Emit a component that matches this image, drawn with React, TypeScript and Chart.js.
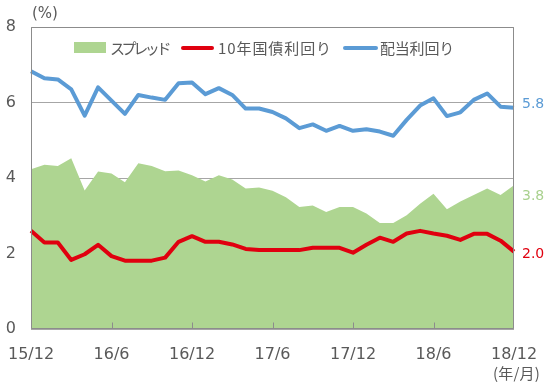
import { useEffect, useRef } from 'react';
import { Chart, registerables } from 'chart.js';
Chart.register(...registerables);

const months = [
  '15/12', '16/1', '16/2', '16/3', '16/4', '16/5', '16/6', '16/7', '16/8', '16/9', '16/10', '16/11',
  '16/12', '17/1', '17/2', '17/3', '17/4', '17/5', '17/6', '17/7', '17/8', '17/9', '17/10', '17/11',
  '17/12', '18/1', '18/2', '18/3', '18/4', '18/5', '18/6', '18/7', '18/8', '18/9', '18/10', '18/11',
  '18/12',
];

const dividendYield = [
  6.83, 6.64, 6.61, 6.35, 5.65, 6.40, 6.05, 5.70, 6.20, 6.13, 6.07, 6.51,
  6.53, 6.22, 6.38, 6.20, 5.84, 5.84, 5.75, 5.58, 5.32, 5.42, 5.25, 5.38,
  5.25, 5.29, 5.23, 5.12, 5.54, 5.92, 6.11, 5.64, 5.74, 6.07, 6.24, 5.89,
  5.86,
];

const bondYield = [
  2.60, 2.29, 2.29, 1.83, 1.98, 2.23, 1.93, 1.81, 1.81, 1.81, 1.89, 2.31,
  2.46, 2.31, 2.31, 2.24, 2.12, 2.09, 2.09, 2.09, 2.09, 2.15, 2.15, 2.15,
  2.02, 2.23, 2.42, 2.31, 2.53, 2.60, 2.53, 2.47, 2.36, 2.52, 2.52, 2.34,
  2.05,
];

const spread = [
  4.23, 4.35, 4.32, 4.52, 3.67, 4.17, 4.12, 3.89, 4.39, 4.32, 4.18, 4.20,
  4.07, 3.91, 4.07, 3.96, 3.72, 3.75, 3.66, 3.49, 3.23, 3.27, 3.10, 3.23,
  3.23, 3.06, 2.81, 2.81, 3.01, 3.32, 3.58, 3.17, 3.38, 3.55, 3.72, 3.55,
  3.81,
];

const seriesNames = ['スプレッド', '10年国債利回り', '配当利回り'];
const endLabels = ['5.8', '3.8', '2.0'];
const yUnit = '(%)';
const xUnit = '(年/月)';

const GREEN = '#AED591';
const GREEN_TEXT = '#A9D18E';
const RED = '#E0000F';
const BLUE = '#5B9BD5';
const GREY_TEXT = '#595959';
const AXIS = '#8C8C8C';
const CJK_FONT = '15px "Noto Sans CJK JP"';

function fitText(ctx: any, text: string, x: number, y: number, width: number) {
  ctx.letterSpacing = '0px';
  const w = ctx.measureText(text).width;
  const sp = (width - w) / text.length;
  ctx.letterSpacing = `${sp}px`;
  ctx.fillText(text, x, y);
  ctx.letterSpacing = '0px';
}

const overlay = {
  id: 'overlay',
  afterDraw(chart: any) {
    const { ctx, chartArea: a, scales } = chart;
    const x = scales.x;
    const y = scales.y;
    ctx.save();
    ctx.strokeStyle = AXIS;
    ctx.lineWidth = 1;
    ctx.setLineDash([]);
    const l = Math.round(a.left) + 0.5;
    const r = Math.round(a.right) - 0.5;
    const t = Math.round(a.top) + 0.5;
    const b = Math.round(a.bottom) - 0.5;
    ctx.beginPath();
    ctx.rect(l, t, r - l, b - t);
    ctx.stroke();
    ctx.beginPath();
    for (let i = 0; i < months.length; i += 6) {
      const px = Math.min(Math.round(x.getPixelForValue(i)) + 0.5, r);
      ctx.moveTo(px, b);
      ctx.lineTo(px, b - 6);
    }
    ctx.stroke();

    ctx.textBaseline = 'middle';
    ctx.textAlign = 'left';
    const ly = 48;
    ctx.fillStyle = GREEN;
    ctx.fillRect(74, ly - 6, 32, 11);
    ctx.fillStyle = GREY_TEXT;
    ctx.font = CJK_FONT;
    fitText(ctx, seriesNames[0], 110, ly, 58);
    ctx.lineCap = 'round';
    ctx.lineWidth = 4;
    ctx.strokeStyle = RED;
    ctx.beginPath();
    ctx.moveTo(183, ly);
    ctx.lineTo(212, ly);
    ctx.stroke();
    fitText(ctx, seriesNames[1], 218, ly, 114);
    ctx.strokeStyle = BLUE;
    ctx.beginPath();
    ctx.moveTo(345, ly);
    ctx.lineTo(376, ly);
    ctx.stroke();
    fitText(ctx, seriesNames[2], 380, ly, 74);

    const last = months.length - 1;
    ctx.font = '14px "DejaVu Sans"';
    ctx.fillStyle = BLUE;
    ctx.fillText(endLabels[0], 522, y.getPixelForValue(dividendYield[last]) - 3);
    ctx.fillStyle = GREEN_TEXT;
    ctx.fillText(endLabels[1], 522, y.getPixelForValue(spread[last]) + 11);
    ctx.fillStyle = RED;
    ctx.fillText(endLabels[2], 522, y.getPixelForValue(bondYield[last]) + 3);

    ctx.fillStyle = GREY_TEXT;
    ctx.font = '15px "DejaVu Sans"';
    ctx.fillText(yUnit, 32, 14);
    ctx.font = CJK_FONT;
    fitText(ctx, xUnit, 493, 373, 47);
    ctx.restore();
  },
};

export default function App() {
  const ref = useRef<HTMLCanvasElement>(null);
  useEffect(() => {
    const chart = new Chart(ref.current as HTMLCanvasElement, {
      type: 'line',
      data: {
        labels: months,
        datasets: [
          {
            label: seriesNames[2],
            data: dividendYield,
            borderColor: BLUE,
            borderWidth: 4,
            pointRadius: 0,
            tension: 0,
            fill: false,
            borderJoinStyle: 'round',
            order: 1,
          },
          {
            label: seriesNames[1],
            data: bondYield,
            borderColor: RED,
            borderWidth: 4,
            pointRadius: 0,
            tension: 0,
            fill: false,
            borderJoinStyle: 'round',
            order: 2,
          },
          {
            label: seriesNames[0],
            data: spread,
            borderColor: GREEN,
            backgroundColor: GREEN,
            borderWidth: 0,
            pointRadius: 0,
            tension: 0,
            fill: 'origin',
            order: 3,
          },
        ],
      },
      options: {
        responsive: false,
        animation: false,
        layout: { padding: { left: 0, right: 36, top: 27, bottom: 0 } },
        plugins: { legend: { display: false }, tooltip: { enabled: false } },
        scales: {
          x: {
            offset: false,
            grid: { display: false, drawTicks: false },
            border: { display: false },
            ticks: {
              autoSkip: false,
              maxRotation: 0,
              padding: 16,
              color: GREY_TEXT,
              font: { family: 'DejaVu Sans', size: 16 },
              callback: (_v: any, i: number) => (i % 6 === 0 ? months[i] : ''),
            },
            afterFit: (s: any) => {
              s.height = 56;
              s.paddingLeft = 0;
              s.paddingRight = 0;
            },
          },
          y: {
            min: 0,
            max: 8,
            grid: { color: '#A6A6A6', lineWidth: 1, drawTicks: false },
            border: { display: false },
            ticks: {
              stepSize: 2,
              padding: 15,
              color: GREY_TEXT,
              font: { family: 'DejaVu Sans', size: 16 },
            },
            afterFit: (s: any) => {
              s.width = 31;
              s.paddingTop = 0;
              s.paddingBottom = 0;
            },
          },
        },
      },
      plugins: [overlay],
    });
    return () => chart.destroy();
  }, []);
  return (
    <div style={{ position: 'absolute', left: 0, top: 0, width: 550, height: 385, background: '#fff' }}>
      <canvas ref={ref} width={550} height={385} />
    </div>
  );
}
